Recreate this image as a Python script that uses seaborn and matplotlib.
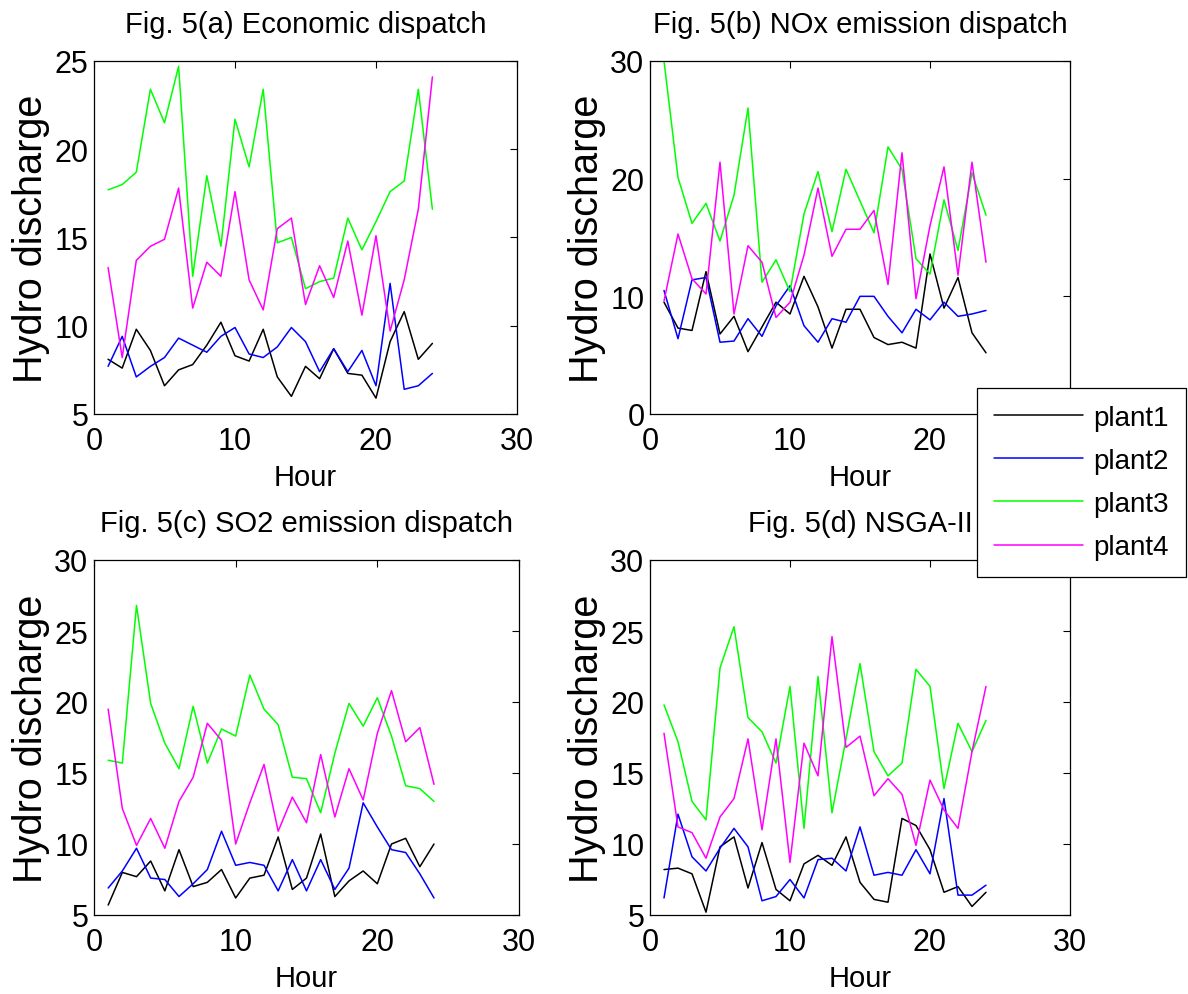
import pandas as pd
import seaborn as sns
import matplotlib.pyplot as plt

hours = list(range(1, 25))
plants = ["plant1", "plant2", "plant3", "plant4"]
colors = {"plant1": "#000000", "plant2": "#0000ff", "plant3": "#00ff00", "plant4": "#ff00ff"}

# Fig. 5(a) Economic dispatch
eco_p1 = [8.1, 7.6, 9.8, 8.6, 6.6, 7.5, 7.8, 8.9, 10.2, 8.3, 8.0, 9.8, 7.1, 6.0, 7.7, 7.0, 8.7, 7.3, 7.2, 5.9, 9.1, 10.8, 8.1, 9.0]
eco_p2 = [7.7, 9.4, 7.1, 7.7, 8.2, 9.3, 8.9, 8.5, 9.4, 9.9, 8.4, 8.2, 8.8, 9.9, 9.1, 7.4, 8.7, 7.4, 8.6, 6.6, 12.4, 6.4, 6.6, 7.3]
eco_p3 = [17.7, 18.0, 18.7, 23.4, 21.5, 24.7, 12.8, 18.5, 14.5, 21.7, 19.0, 23.4, 14.7, 15.0, 12.1, 12.5, 12.7, 16.1, 14.3, 15.9, 17.6, 18.2, 23.4, 16.6]
eco_p4 = [13.3, 8.2, 13.7, 14.5, 14.9, 17.8, 11.0, 13.6, 12.8, 17.6, 12.6, 10.9, 15.5, 16.1, 11.2, 13.4, 11.6, 14.8, 10.6, 15.1, 9.7, 12.6, 16.6, 24.1]

# Fig. 5(b) NOx emission dispatch
nox_p1 = [9.5, 7.3, 7.1, 12.1, 6.8, 8.3, 5.3, 7.4, 9.5, 8.5, 11.7, 9.1, 5.6, 8.9, 8.9, 6.5, 5.9, 6.1, 5.6, 13.6, 9.0, 11.6, 6.9, 5.2]
nox_p2 = [10.5, 6.4, 11.4, 11.6, 6.1, 6.2, 8.1, 6.6, 9.2, 10.9, 7.5, 6.1, 8.1, 7.8, 10.0, 10.0, 8.3, 6.9, 8.9, 8.0, 9.5, 8.3, 8.5, 8.8]
nox_p3 = [30.0, 20.1, 16.2, 17.9, 14.7, 18.6, 26.0, 11.2, 13.1, 10.4, 17.0, 20.6, 15.5, 20.8, 18.1, 15.4, 22.7, 20.8, 13.2, 11.9, 18.2, 13.9, 20.5, 16.9]
nox_p4 = [9.6, 15.3, 11.5, 10.2, 21.4, 8.5, 14.3, 12.9, 8.2, 9.5, 13.5, 19.2, 13.4, 15.7, 15.7, 17.3, 11.0, 22.2, 9.8, 16.0, 21.0, 11.8, 21.4, 12.9]

# Fig. 5(c) SO2 emission dispatch
so2_p1 = [5.7, 8.0, 7.7, 8.8, 6.7, 9.6, 7.0, 7.3, 8.2, 6.2, 7.6, 7.8, 10.5, 6.8, 7.6, 10.7, 6.3, 7.4, 8.1, 7.2, 10.0, 10.4, 8.4, 10.0]
so2_p2 = [6.9, 8.1, 9.7, 7.6, 7.5, 6.3, 7.2, 8.2, 10.9, 8.5, 8.7, 8.5, 6.7, 8.9, 6.7, 8.9, 6.8, 8.3, 12.9, 11.2, 9.6, 9.4, 7.9, 6.2]
so2_p3 = [15.9, 15.7, 26.8, 19.9, 17.1, 15.3, 19.7, 15.7, 18.1, 17.6, 21.9, 19.5, 18.4, 14.7, 14.6, 12.2, 16.4, 19.9, 18.3, 20.3, 17.6, 14.1, 13.9, 13.0]
so2_p4 = [19.5, 12.5, 9.9, 11.8, 9.7, 13.0, 14.7, 18.5, 17.3, 10.0, 12.9, 15.6, 10.9, 13.3, 11.5, 16.3, 11.9, 15.3, 13.1, 17.8, 20.8, 17.2, 18.2, 14.2]

# Fig. 5(d) NSGA-II
nsga_p1 = [8.2, 8.3, 7.9, 5.2, 9.8, 10.5, 6.9, 10.1, 6.8, 6.0, 8.6, 9.2, 8.5, 10.5, 7.3, 6.1, 5.9, 11.8, 11.3, 9.6, 6.6, 7.0, 5.6, 6.6]
nsga_p2 = [6.2, 12.1, 9.1, 8.1, 9.7, 11.1, 9.8, 6.0, 6.3, 7.5, 6.2, 8.9, 9.0, 8.1, 11.2, 7.8, 8.0, 7.8, 9.6, 7.9, 13.2, 6.4, 6.4, 7.1]
nsga_p3 = [19.8, 17.2, 13.0, 11.7, 22.4, 25.3, 18.9, 17.9, 15.7, 21.1, 11.1, 21.8, 12.2, 17.4, 22.7, 16.5, 14.8, 15.7, 22.3, 21.1, 13.9, 18.5, 16.5, 18.7]
nsga_p4 = [17.8, 11.2, 10.8, 9.0, 11.9, 13.2, 17.4, 11.0, 17.4, 8.7, 17.1, 14.8, 24.6, 16.8, 17.6, 13.4, 14.6, 13.5, 9.9, 14.5, 12.4, 11.1, 16.5, 21.1]

titles = ["Fig. 5(a) Economic dispatch", "Fig. 5(b) NOx emission dispatch",
          "Fig. 5(c) SO2 emission dispatch", "Fig. 5(d) NSGA-II"]
series = [
    [eco_p1, eco_p2, eco_p3, eco_p4],
    [nox_p1, nox_p2, nox_p3, nox_p4],
    [so2_p1, so2_p2, so2_p3, so2_p4],
    [nsga_p1, nsga_p2, nsga_p3, nsga_p4],
]
y_ranges = [(5, 25, [5, 10, 15, 20, 25]), (0, 30, [0, 10, 20, 30]),
            (5, 30, [5, 10, 15, 20, 25, 30]), (5, 30, [5, 10, 15, 20, 25, 30])]

sns.set_theme(style="white")
plt.rcParams["font.family"] = ["Liberation Sans", "DejaVu Sans"]
plt.rcParams["axes.edgecolor"] = "black"
plt.rcParams["axes.linewidth"] = 0.9
plt.rcParams["text.color"] = "black"
plt.rcParams["axes.labelcolor"] = "black"

fig = plt.figure(figsize=(11.88, 9.95), dpi=100)
W, H = 1188, 995
# axes boxes in pixels: left, top, right, bottom
boxes = [(94, 62, 517, 415), (650, 62, 1070, 415),
         (94, 561, 519, 916), (650, 561, 1070, 916)]

axes = []
for i, (l, t, r, b) in enumerate(boxes):
    ax = fig.add_axes([l / W, 1 - b / H, (r - l) / W, (b - t) / H])
    df = pd.DataFrame({
        "Hour": hours * 4,
        "value": sum(series[i], []),
        "plant": [p for p in plants for _ in hours],
    })
    sns.lineplot(data=df, x="Hour", y="value", hue="plant", palette=colors,
                 linewidth=1.1, legend=False, ax=ax)
    ylo, yhi, yt = y_ranges[i]
    ax.set_xlim(0, 30)
    ax.set_ylim(ylo, yhi)
    ax.set_xticks([0, 10, 20, 30])
    ax.set_yticks(yt)
    ax.tick_params(direction="in", length=5, width=0.8, top=True, right=True,
                   labelsize=22, colors="black")
    ax.tick_params(axis="x", pad=9)
    ax.tick_params(axis="y", pad=4)
    ax.set_title(titles[i], fontsize=21, pad=21, color="black")
    ax.set_xlabel("Hour", fontsize=21, labelpad=5)
    ax.set_ylabel("Hydro discharge", fontsize=28.5, labelpad=3)
    for s in ax.spines.values():
        s.set_visible(True)
        s.set_color("black")
    axes.append(ax)

handles = axes[0].get_lines()[:4]
leg = fig.legend(handles, plants, loc="upper left",
                 bbox_to_anchor=(977 / W, 1 - 389 / H), borderaxespad=0,
                 fontsize=20, handlelength=3.2, handletextpad=0.4,
                 labelspacing=0.62, borderpad=0.6, frameon=True, fancybox=False)
leg.get_frame().set_edgecolor("black")
leg.get_frame().set_linewidth(0.9)
leg.get_frame().set_alpha(1)
for txt in leg.get_texts():
    txt.set_color("black")

fig.savefig("out.png", dpi=100)
